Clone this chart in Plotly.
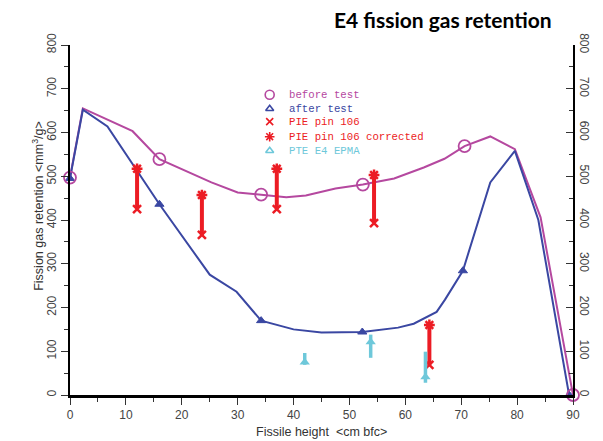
import plotly.graph_objects as go

# ---- data ----
before_line_x = [0, 2.3, 11.2, 16.0, 25.3, 30.0, 34.2, 38.7, 42.2, 47.5, 52.4, 58.0, 63.3, 67.0, 70.6, 75.2, 79.6, 84.2, 90.0]
before_line_y = [497, 655, 603, 539, 486, 463, 458, 452, 456, 472, 481, 495, 520, 540, 569, 591, 562, 406, 0]
before_mark_x = [0, 16.0, 34.2, 52.4, 70.6, 90.0]
before_mark_y = [497, 539, 458, 481, 569, 0]

after_line_x = [0, 2.3, 6.7, 16.0, 25.0, 29.8, 34.2, 40.0, 45.0, 52.3, 58.7, 61.5, 65.6, 67.1, 70.3, 75.2, 79.6, 83.8, 89.3]
after_line_y = [495, 652, 614, 436, 275, 236, 170, 150, 143, 144, 154, 163, 190, 218, 284, 486, 558, 400, 0]
after_mark_x = [0, 16.0, 34.2, 52.3, 70.3, 89.3]
after_mark_y = [495, 436, 170, 144, 284, 0]

pie_x = [12.0, 23.6, 37.0, 54.4, 64.3]
pie_y = [425, 366, 425, 393, 69]
pie_corr_y = [517, 457, 517, 503, 160]

epma_x = [42.0, 53.8, 63.6]
epma_y = [75, 121, 41]
epma_lo = [69, 85, 28]
epma_hi = [96, 138, 99]

legend_names = ["before test", "after test", "PIE pin 106", "PIE pin 106 corrected", "PTE E4 EPMA"]

# ---- styles ----
MAG = "#b5489f"
BLU = "#3a47a2"
RED = "#ec1c24"
CYN = "#6ec8da"

fig = go.Figure()

fig.add_trace(go.Scatter(x=before_line_x, y=before_line_y, mode="lines",
                         line=dict(color=MAG, width=2), showlegend=False, cliponaxis=False))
fig.add_trace(go.Scatter(x=after_line_x, y=after_line_y, mode="lines",
                         line=dict(color=BLU, width=2), showlegend=False, cliponaxis=False))

# PIE bars
for xi, lo, hi in zip(pie_x, pie_y, pie_corr_y):
    fig.add_trace(go.Scatter(x=[xi, xi], y=[lo, hi], mode="lines",
                             line=dict(color=RED, width=4), showlegend=False))
fig.add_trace(go.Scatter(x=pie_x, y=pie_y, mode="markers",
                         marker=dict(symbol="x-thin-open", size=8, color=RED, line=dict(width=2.5, color=RED)),
                         showlegend=False))
fig.add_trace(go.Scatter(x=pie_x, y=pie_corr_y, mode="markers",
                         marker=dict(symbol="asterisk-open", size=9, color=RED, line=dict(width=2.5, color=RED)),
                         showlegend=False))

# EPMA
for xi, lo, hi in zip(epma_x, epma_lo, epma_hi):
    fig.add_trace(go.Scatter(x=[xi, xi], y=[lo, hi], mode="lines",
                             line=dict(color=CYN, width=3.5), showlegend=False))
fig.add_trace(go.Scatter(x=epma_x, y=epma_y, mode="markers",
                         marker=dict(symbol="triangle-up", size=9, color=CYN),
                         showlegend=False))

# curve markers
fig.add_trace(go.Scatter(x=after_mark_x, y=after_mark_y, mode="markers",
                         marker=dict(symbol="triangle-up", size=8, color=BLU, line=dict(width=1, color=BLU)),
                         showlegend=False, cliponaxis=False))
fig.add_trace(go.Scatter(x=before_mark_x, y=before_mark_y, mode="markers",
                         marker=dict(symbol="circle-open", size=12, color=MAG, line=dict(width=1.8, color=MAG)),
                         showlegend=False, cliponaxis=False))

# ---- manual legend (positions in plot-area fraction) ----
leg_sym_x = 0.397
leg_txt_x = 0.432
leg_rows = [0.858, 0.818, 0.781, 0.738, 0.698]
leg_colors = [MAG, BLU, RED, RED, CYN]
leg_symbols = ["circle-open", "triangle-up-open", "x-thin-open", "asterisk-open", "triangle-up-open"]
leg_sizes = [9, 7, 7, 8, 7]
for sym, col, sz, yy in zip(leg_symbols, leg_colors, leg_sizes, leg_rows):
    fig.add_trace(go.Scatter(x=[leg_sym_x], y=[yy], xaxis="x3", yaxis="y3", mode="markers",
                             marker=dict(symbol=sym, size=sz, color=col, line=dict(width=1.6, color=col)),
                             showlegend=False, hoverinfo="skip"))
annotations = []
for name, col, yy in zip(legend_names, leg_colors, leg_rows):
    annotations.append(dict(x=leg_txt_x, y=yy, xref="paper", yref="paper", text=name,
                            showarrow=False, xanchor="left", yanchor="middle",
                            font=dict(family="Liberation Mono", size=10.7, color=col)))

annotations.append(dict(x=0.741, y=1.073, xref="paper", yref="paper",
                        text="<b>E4 fission gas retention</b>", showarrow=False,
                        xanchor="center", yanchor="middle",
                        font=dict(family="Lato", size=21, color="#000000")))
annotations.append(dict(x=0.5, y=-0.106, xref="paper", yref="paper",
                        text="Fissile height  &lt;cm bfc&gt;", showarrow=False,
                        xanchor="center", yanchor="middle",
                        font=dict(family="Liberation Sans", size=12.5, color="#333333")))
annotations.append(dict(x=-0.064, y=0.54, xref="paper", yref="paper",
                        text="Fission gas retention &lt;mm<sup>3</sup>/g&gt;", showarrow=False,
                        textangle=-90, xanchor="center", yanchor="middle",
                        font=dict(family="Liberation Sans", size=12.5, color="#333333")))

tickfont = dict(family="Liberation Sans", size=12, color="#444444")

fig.update_layout(
    width=603, height=441,
    margin=dict(l=70, r=21, t=45, b=46),
    paper_bgcolor="white", plot_bgcolor="white",
    showlegend=False,
    annotations=annotations,
    xaxis=dict(range=[0, 90], dtick=10, tick0=0, showgrid=False, zeroline=False,
               showline=True, linecolor="black", linewidth=2.5,
               ticks="outside", ticklen=7, tickwidth=1, tickcolor="#333333",
               minor=dict(dtick=5, ticks="outside", ticklen=4, tickcolor="#333333", showgrid=False),
               tickfont=tickfont),
    yaxis=dict(range=[0, 800], dtick=100, tick0=0, showgrid=False, zeroline=False,
               showline=True, linecolor="black", linewidth=1.5,
               ticks="outside", ticklen=7, tickwidth=1, tickcolor="#333333", tickangle=-90,
               minor=dict(dtick=50, ticks="outside", ticklen=4, tickcolor="#333333", showgrid=False),
               tickfont=tickfont),
    yaxis2=dict(range=[0, 800], overlaying="y", side="right", dtick=100, tick0=0,
                showgrid=False, zeroline=False, showline=True, linecolor="black", linewidth=1.5,
                ticks="inside", ticklen=7, tickwidth=1, tickcolor="#333333", tickangle=90,
                minor=dict(dtick=50, ticks="inside", ticklen=4, tickcolor="#333333", showgrid=False),
                tickfont=tickfont),
    xaxis3=dict(range=[0, 1], overlaying="x", visible=False),
    yaxis3=dict(range=[0, 1], overlaying="y", visible=False),
)

# dummy trace to show the right axis
fig.add_trace(go.Scatter(x=[0], y=[0], yaxis="y2", mode="markers",
                         marker=dict(opacity=0), showlegend=False, hoverinfo="skip"))

fig.write_html("out.html")
